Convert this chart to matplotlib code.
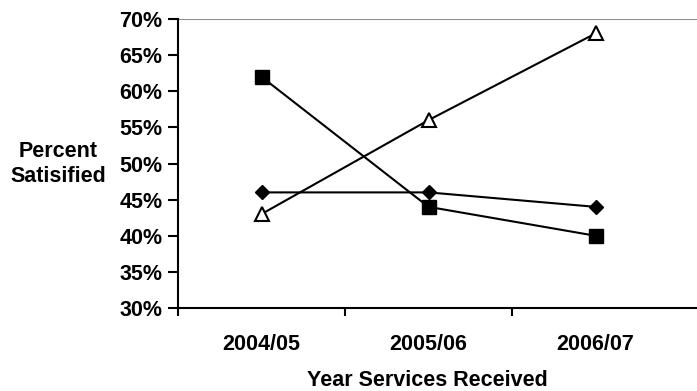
import matplotlib
matplotlib.use("Agg")
import matplotlib.pyplot as plt
from matplotlib.ticker import FuncFormatter

years = ["2004/05", "2005/06", "2006/07"]
series_diamond = [46, 46, 44]
series_square = [62, 44, 40]
series_triangle = [43, 56, 68]
y_ticks = [30, 35, 40, 45, 50, 55, 60, 65, 70]

plt.rcParams.update({
    "font.family": ["Liberation Sans", "DejaVu Sans"],
    "font.weight": "bold",
    "font.size": 15.5,
})

fig = plt.figure(figsize=(6.97, 3.91), dpi=100)
ax = fig.add_axes([178 / 697, (391 - 308) / 391, 1 - 178 / 697, (308 - 19) / 391])

x = list(range(len(years)))
ax.plot(x, series_diamond, color="black", lw=1.5, marker="D", ms=7,
        mfc="black", mec="black", zorder=3, clip_on=False)
ax.plot(x, series_square, color="black", lw=1.5, marker="s", ms=10,
        mfc="black", mec="black", zorder=3, clip_on=False)
ax.plot(x, series_triangle, color="black", lw=1.5, marker="^", ms=10,
        mfc="white", mec="black", mew=1.5, zorder=3, clip_on=False)

ax.axhline(70, color="#8c8c8c", lw=1.5, zorder=1)

ax.set_xlim(-0.5, (697 - 178) / 167 - 0.5)
ax.set_ylim(30, 70)
ax.set_yticks(y_ticks)
ax.yaxis.set_major_formatter(FuncFormatter(lambda v, p: f"{v:.0f}%"))
ax.set_xticks(x)
ax.set_xticklabels(years)
ax.set_xticks([-0.5, 0.5, 1.5], minor=True)
ax.tick_params(axis="x", which="major", length=0, pad=19)
ax.tick_params(axis="x", which="minor", length=6, width=1.5, direction="out")
ax.tick_params(axis="y", length=7, width=1.5, direction="out", pad=4)

for s in ["top", "right"]:
    ax.spines[s].set_visible(False)
for s in ["left", "bottom"]:
    ax.spines[s].set_linewidth(1.5)

ax.set_xlabel("Year Services Received", fontweight="bold", va="center")
ax.xaxis.set_label_coords(0.48, -0.252)
ax.set_ylabel("Percent\nSatisified", fontweight="bold", rotation=0,
              ha="center", va="center", linespacing=1.3)
ax.yaxis.set_label_coords(-0.231, 0.498)

fig.savefig("out.png", dpi=100)
